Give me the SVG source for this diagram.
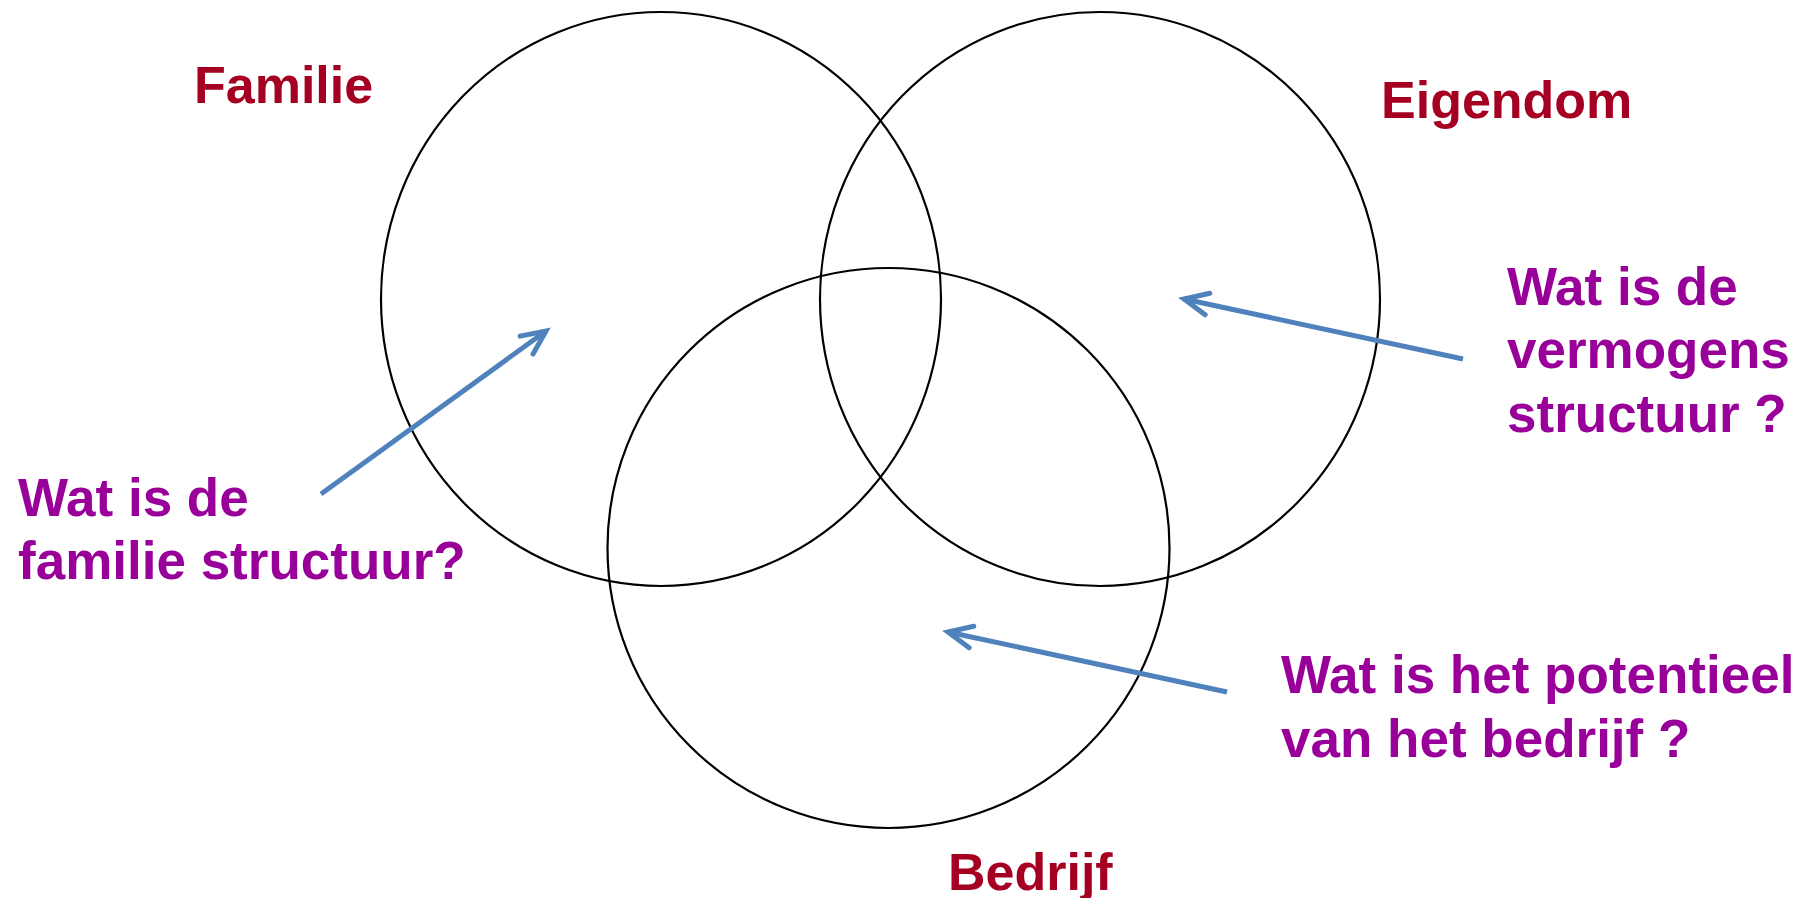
<svg xmlns="http://www.w3.org/2000/svg" width="1810" height="898" viewBox="0 0 1810 898">
  <style>
    .ring { fill: none; stroke: #000; stroke-width: 2.2; }
    .title { font-family: "Liberation Sans", Arial, sans-serif; font-weight: bold; font-size: 52px; fill: #A50021; }
    .q { font-family: "Liberation Sans", Arial, sans-serif; font-weight: bold; font-size: 53px; fill: #990099; }
    .arrow { fill: none; stroke: #4F81BD; stroke-width: 5; marker-end: url(#openArrow); }
  </style>
  <defs>
    <marker id="openArrow" markerUnits="userSpaceOnUse" viewBox="-30 -16 34 32" refX="0" refY="0" markerWidth="34" markerHeight="32" orient="auto" overflow="visible">
      <path d="M -24 -11 L 0 0 L -24 11" fill="none" stroke="#4F81BD" stroke-width="5" stroke-linecap="round" stroke-linejoin="miter"/>
    </marker>
  </defs>
  <rect width="1810" height="898" fill="#fff"/>

  <g id="familie">
    <ellipse class="ring" cx="661" cy="299" rx="280" ry="287"/>
    <text class="title" x="194" y="103">Familie</text>
  </g>
  <g id="eigendom">
    <ellipse class="ring" cx="1100" cy="299" rx="280" ry="287"/>
    <text class="title" x="1381" y="118">Eigendom</text>
  </g>
  <g id="bedrijf">
    <ellipse class="ring" cx="888.5" cy="548" rx="281" ry="280"/>
    <text class="title" x="948" y="890">Bedrijf</text>
  </g>

  <g id="q-familie">
    <text class="q" x="18" y="516">Wat is de</text>
    <text class="q" x="18" y="579">familie structuur?</text>
  </g>
  <g id="q-vermogen">
    <text class="q" x="1507" y="305">Wat is de</text>
    <text class="q" x="1507" y="368">vermogens</text>
    <text class="q" x="1507" y="432">structuur ?</text>
  </g>
  <g id="q-bedrijf">
    <text class="q" x="1281" y="693">Wat is het potentieel</text>
    <text class="q" x="1281" y="757">van het bedrijf ?</text>
  </g>

  <g id="connectors">
    <line class="arrow" x1="321" y1="494" x2="546" y2="331"/>
    <line class="arrow" x1="1463" y1="359" x2="1184" y2="299"/>
    <line class="arrow" x1="1227" y1="692" x2="948" y2="632"/>
  </g>
</svg>
